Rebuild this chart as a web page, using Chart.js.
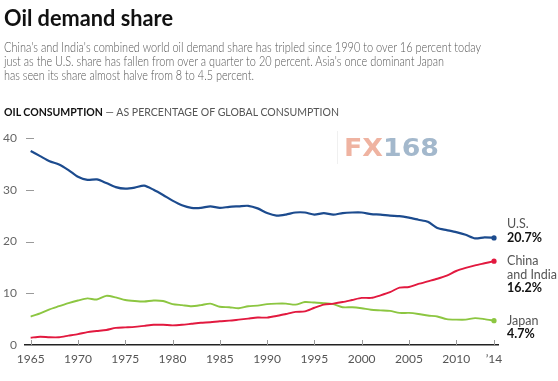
<!DOCTYPE html>
<html><head><meta charset="utf-8">
<script src="https://cdn.jsdelivr.net/npm/chart.js@4.4.1/dist/chart.umd.min.js"></script>
<style>
html,body{margin:0;padding:0;background:#fff;}
#wrap{position:relative;width:558px;height:381px;overflow:hidden;}
#c{position:absolute;left:0;top:0;}
.t{position:absolute;left:4px;white-space:nowrap;transform-origin:0 0;line-height:1;font-family:"Liberation Sans Narrow",Lato,"Liberation Sans",sans-serif;}
#title{top:6px;font-size:23px;font-weight:bold;color:#111;font-family:Lato,"Liberation Sans",sans-serif;}
.sub{font-size:13px;color:#555;font-weight:300;font-family:Lato,"Liberation Sans",sans-serif;}
#head{top:106px;font-size:11px;color:#555;font-family:Lato,"Liberation Sans",sans-serif;}
#head b{color:#111;}
#wm{position:absolute;left:337px;top:131px;height:33px;border-left:1px solid #f0f0f0;padding-left:6px;}
#wm span{position:absolute;left:6px;top:5px;white-space:nowrap;font-family:"DejaVu Sans",sans-serif;font-weight:bold;font-size:24px;line-height:1;transform-origin:0 0;}
</style></head>
<body>
<div id="wrap">
<canvas id="c" width="558" height="381"></canvas>
<div class="t" id="title" data-w="169">Oil demand share</div>
<div class="t sub" style="top:41px" data-w="477">China's and India's combined world oil demand share has tripled since 1990 to over 16 percent today</div>
<div class="t sub" style="top:55px" data-w="440">just as the U.S. share has fallen from over a quarter to 20 percent. Asia's once dominant Japan</div>
<div class="t sub" style="top:69px" data-w="250">has seen its share almost halve from 8 to 4.5 percent.</div>
<div class="t" id="head" data-w="335"><b>OIL CONSUMPTION</b> — AS PERCENTAGE OF GLOBAL CONSUMPTION</div>
<div id="wm"><span data-w="95"><span style="position:static;color:#efb3a1">FX</span><span style="position:static;color:#a3b8cc">168</span></span></div>
</div>
<script>
const years=[1965,1966,1967,1968,1969,1970,1971,1972,1973,1974,1975,1976,1977,1978,1979,1980,1981,1982,1983,1984,1985,1986,1987,1988,1989,1990,1991,1992,1993,1994,1995,1996,1997,1998,1999,2000,2001,2002,2003,2004,2005,2006,2007,2008,2009,2010,2011,2012,2013,2014];
const usShare=[37.5,36.5,35.5,34.9,33.8,32.5,31.9,32.0,31.3,30.5,30.2,30.4,30.8,30.0,29.0,27.9,27.0,26.5,26.5,26.8,26.5,26.7,26.8,26.9,26.4,25.5,25.0,25.2,25.6,25.6,25.2,25.5,25.2,25.5,25.6,25.6,25.3,25.2,25.0,24.9,24.6,24.2,23.8,22.6,22.2,21.8,21.3,20.6,20.8,20.7];
const chinaIndiaShare=[1.4,1.6,1.5,1.5,1.8,2.1,2.5,2.7,2.9,3.3,3.4,3.5,3.7,3.9,3.9,3.8,3.9,4.1,4.3,4.4,4.6,4.7,4.9,5.1,5.3,5.3,5.6,6.0,6.4,6.5,7.2,7.8,8.0,8.3,8.7,9.1,9.1,9.6,10.2,11.1,11.2,11.8,12.3,12.8,13.4,14.3,14.9,15.4,15.8,16.2];
const japanShare=[5.5,6.1,6.9,7.5,8.1,8.6,9.0,8.8,9.5,9.2,8.7,8.5,8.4,8.6,8.5,7.9,7.7,7.5,7.7,8.0,7.4,7.3,7.1,7.5,7.6,7.9,8.0,8.0,7.8,8.3,8.2,8.1,7.9,7.3,7.3,7.1,6.8,6.7,6.6,6.2,6.2,6.0,5.7,5.5,5.0,4.9,4.9,5.2,5.0,4.7];
const yTicks=[0,10,20,30,40];
const xTicks=[1965,1970,1975,1980,1985,1990,1995,2000,2005,2010,2014];
const xTickLabels=['1965','1970','1975','1980','1985','1990','1995','2000','2005','2010','’14'];
const seriesNames=[['U.S.'],['China','and India'],['Japan']];
const endValues=['20.7%','16.2%','4.7%'];
const seriesColors=['#1c4b8e','#e2193f','#8cc641'];

document.querySelectorAll('[data-w]').forEach(el=>{
  const w=el.getBoundingClientRect().width;
  const t=parseFloat(el.dataset.w);
  if(w>0) el.style.transform='scaleX('+(t/w)+')';
});

const FONT='Lato, "Liberation Sans", sans-serif';
const last=years.length-1;
function mk(vals,i,width){
  return {data:years.map((y,k)=>({x:y,y:vals[k]})),borderColor:seriesColors[i],backgroundColor:seriesColors[i],
    borderWidth:width,tension:0.25,pointRadius:c=>c.dataIndex===last?2.6:0,pointBorderWidth:0,fill:false};
}
const tickPlugin={id:'ticks',afterDraw(ch){
  const c=ch.ctx,a=ch.chartArea,x=ch.scales.x,y=ch.scales.y;
  c.save();c.strokeStyle='#9a9a9a';c.lineWidth=1;
  yTicks.forEach(v=>{if(v===0)return;const p=Math.round(y.getPixelForValue(v))+0.5;c.beginPath();c.moveTo(a.left+1,p);c.lineTo(a.left+9,p);c.stroke();});
  xTicks.forEach(v=>{const p=Math.round(x.getPixelForValue(v))+0.5;c.beginPath();c.moveTo(p,a.bottom);c.lineTo(p,a.bottom-5);c.stroke();});
  const lh=13.5;
  ch.data.datasets.forEach((ds,i)=>{
    const py=y.getPixelForValue(ds.data[last].y);
    const px=x.getPixelForValue(ds.data[last].x)+13;
    const names=seriesNames[i];
    let start= i===0 ? py-lh*names.length : py;
    c.textBaseline='middle';c.textAlign='left';
    c.font='12.5px '+FONT;c.fillStyle='#555';
    names.forEach((n,k)=>c.fillText(n,px,start+k*lh));
    c.font='bold 12.5px '+FONT;c.fillStyle='#111';
    c.fillText(endValues[i],px,start+names.length*lh);
  });
  c.restore();
}};
new Chart(document.getElementById('c'),{
  type:'line',
  data:{datasets:[mk(usShare,0,2.2),mk(chinaIndiaShare,1,1.9),mk(japanShare,2,1.9)]},
  options:{responsive:false,animation:false,events:[],
    layout:{padding:{top:138,right:60,bottom:14,left:0}},
    plugins:{legend:{display:false},tooltip:{enabled:false}},
    scales:{
      x:{type:'linear',min:1964.4,max:2014.42,
        afterBuildTicks(s){s.ticks=xTicks.map(v=>({value:v}));},
        afterFit(s){s.height=22;},
        ticks:{autoSkip:false,maxRotation:0,padding:7,color:'#555',font:{size:12,family:FONT},
          callback:(v)=>{const k=xTicks.indexOf(v);return k>=0?xTickLabels[k]:'';}},
        grid:{display:false,drawTicks:false},border:{display:true,color:'#222',width:1.5}},
      y:{min:0,max:40,
        afterBuildTicks(s){s.ticks=yTicks.map(v=>({value:v}));},
        afterFit(s){s.width=25;},
        ticks:{padding:8,color:'#666',font:{size:12,family:FONT}},
        grid:{display:false,drawTicks:false},border:{display:false}}
    }
  },
  plugins:[tickPlugin]
});
</script>
</body></html>
